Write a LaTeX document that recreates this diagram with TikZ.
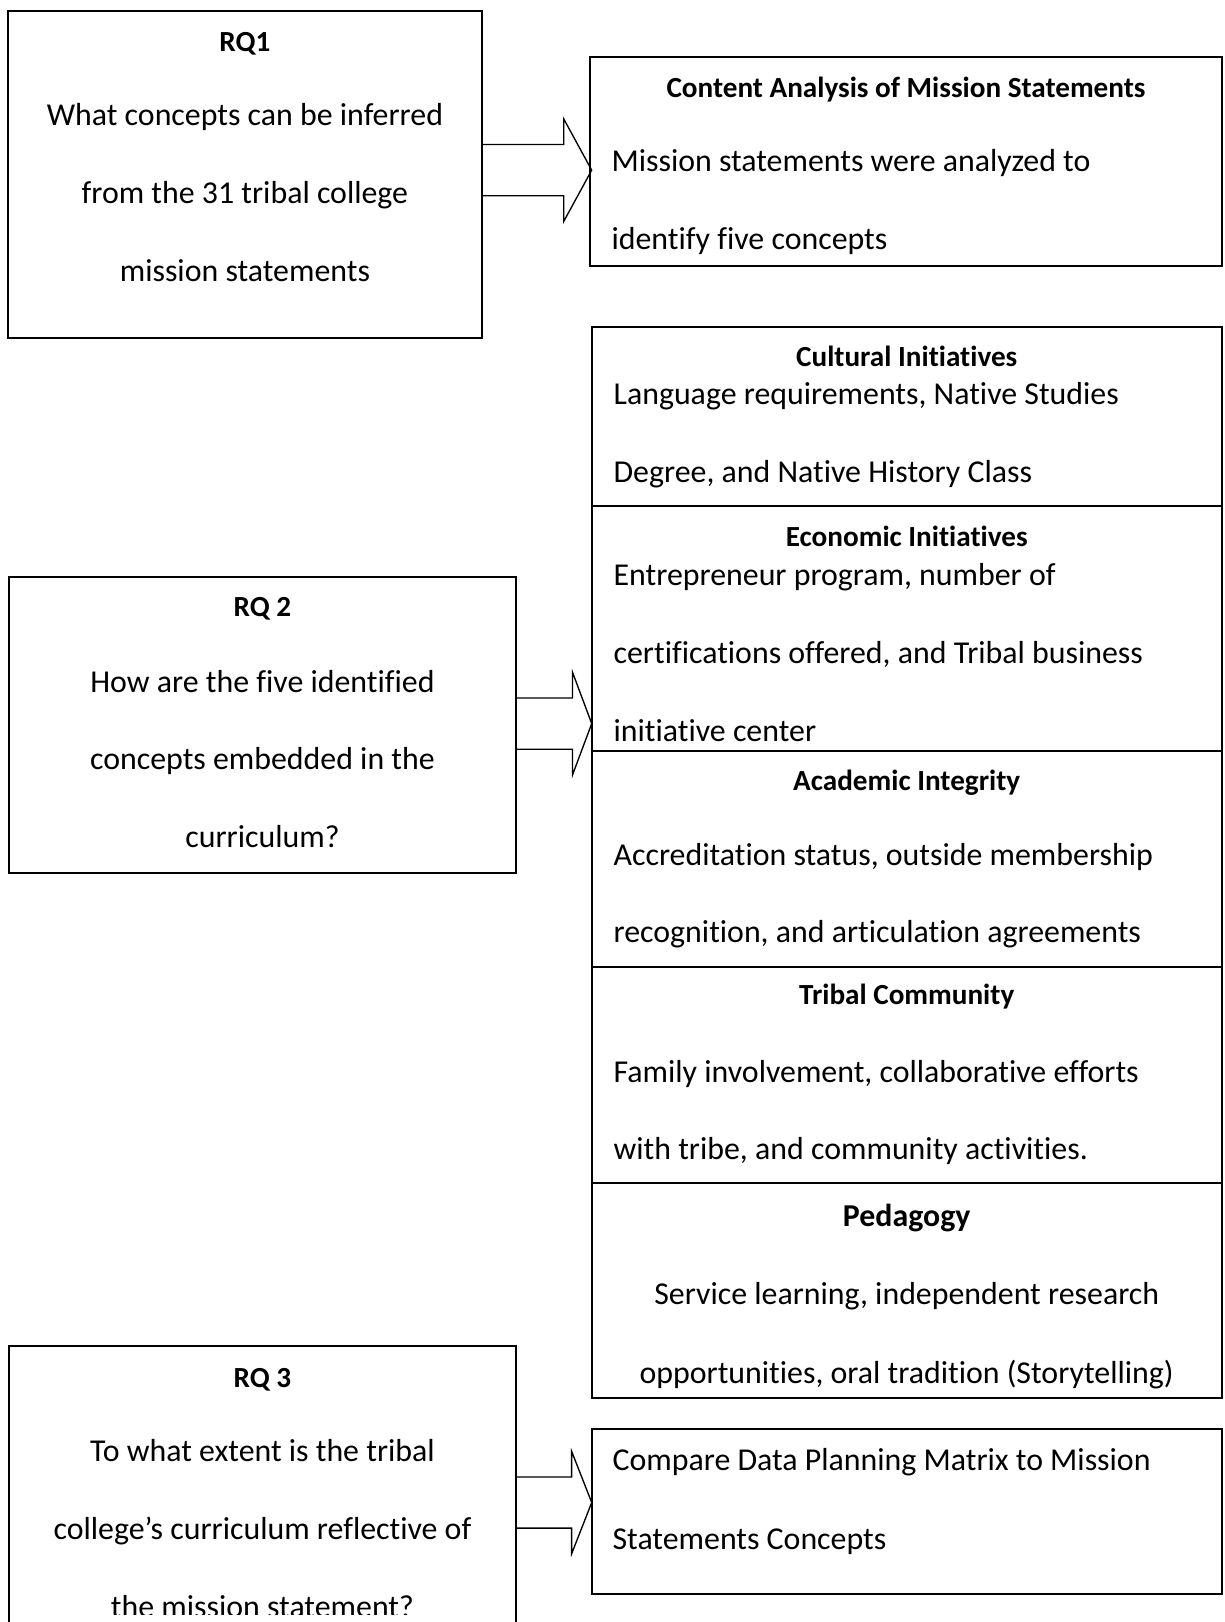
\documentclass[tikz,border=0pt]{standalone}
\usepackage{fontspec}
\setmainfont{Carlito}[Ligatures=NoCommon]
\usetikzlibrary{calc}
\newcommand\bodyfont{\fontsize{30.8}{36}\selectfont}
\newcommand\headfont{\fontsize{28.2}{34}\selectfont\bfseries}
\newcommand\bigheadfont{\fontsize{30.8}{36}\selectfont\bfseries}
\newcommand\blockarr[3]{%
  \draw[blockarrow] let \p1=(#1.east), \p2=(#2) in
   (\x1,\y2+24.75pt) -- (\x2-#3pt,\y2+24.75pt) -- (\x2-#3pt,\y2+49.5pt) -- (\x2,\y2)
   -- (\x2-#3pt,\y2-49.5pt) -- (\x2-#3pt,\y2-24.75pt) -- (\x1,\y2-24.75pt);}
\begin{document}
\begin{tikzpicture}[x=1pt,y=-1pt,
  box/.style={draw, line width=1.9pt, inner sep=0pt, outer sep=0pt, anchor=north west},
  blockarrow/.style={draw, line width=1.3pt, line join=miter},
  txt/.style={inner sep=0pt, anchor=base west, font=\bodyfont},
  ctxt/.style={inner sep=0pt, anchor=base, font=\bodyfont},
  head/.style={inner sep=0pt, anchor=base, font=\headfont},
  bighead/.style={inner sep=0pt, anchor=base, font=\bigheadfont}]
\useasboundingbox[fill=white] (0,0) rectangle (1184,1568);

% ---------- RQ1 ----------
\node[box, minimum width=457.5pt, minimum height=316.4pt] (rq1) at (8,10.6) {};
\node[head] (rq1h) at (236.75,50) {RQ1};
\node[ctxt] (rq1a) at (236.75,121.5) {What concepts can be inferred};
\node[ctxt] (rq1b) at (236.75,197) {from the 31 tribal college};
\node[ctxt] (rq1c) at (236.75,272.5) {mission statements};

% ---------- Content analysis ----------
\node[box, minimum width=610.4pt, minimum height=201.6pt] (content) at (570.6,55.4) {};
\node[head] (conth) at (875.8,94) {Content Analysis of Mission Statements};
\node[txt] (conta) at (591,166) {Mission statements were analyzed to};
\node[txt] (contb) at (591,241.5) {identify five concepts};

% ---------- Concept boxes ----------
\node[box, minimum width=609pt, minimum height=173.8pt] (cult) at (572,315.7) {};
\node[head] (culth) at (876.5,354.5) {Cultural Initiatives};
\node[txt] (culta) at (593,391) {Language requirements, Native Studies};
\node[txt] (cultb) at (593,466.5) {Degree, and Native History Class};

\node[box, minimum width=609pt, minimum height=236.1pt] (econ) at (572,489.5) {};
\node[head] (econh) at (876.5,528.5) {Economic Initiatives};
\node[txt] (econa) at (593,566) {Entrepreneur program, number of};
\node[txt] (econb) at (593,641.5) {certifications offered, and Tribal business};
\node[txt] (econc) at (593,717) {initiative center};

\node[box, minimum width=609pt, minimum height=208.9pt] (acad) at (572,725.6) {};
\node[head] (acadh) at (876.5,764) {Academic Integrity};
\node[txt] (acada) at (593,836.5) {Accreditation status, outside membership};
\node[txt] (acadb) at (593,911) {recognition, and articulation agreements};

\node[box, minimum width=609pt, minimum height=209.2pt] (trib) at (572,934.5) {};
\node[head] (tribh) at (876.5,971.5) {Tribal Community};
\node[txt] (triba) at (593,1046) {Family involvement, collaborative efforts};
\node[txt] (tribb) at (593,1120.5) {with tribe, and community activities.};

\node[box, minimum width=609pt, minimum height=207.3pt] (peda) at (572,1143.7) {};
\node[bighead] (pedah) at (876.5,1186) {Pedagogy};
\node[ctxt] (pedaa) at (876.5,1261.5) {Service learning, independent research};
\node[ctxt] (pedab) at (876.5,1337) {opportunities, oral tradition (Storytelling)};

\node[box, minimum width=609pt, minimum height=159.5pt] (comp) at (572,1381.5) {};
\node[txt] (compa) at (592,1422) {Compare Data Planning Matrix to Mission};
\node[txt] (compb) at (592,1497.5) {Statements Concepts};

% ---------- RQ2 ----------
\node[box, minimum width=489.4pt, minimum height=286.6pt] (rq2) at (9,557.4) {};
\node[head] (rq2h) at (253.7,596) {RQ 2};
\node[ctxt] (rq2a) at (253.7,669) {How are the five identified};
\node[ctxt] (rq2b) at (253.7,744) {concepts embedded in the};
\node[ctxt] (rq2c) at (253.7,819) {curriculum?};

% ---------- RQ3 (cut off at the bottom) ----------
\begin{scope}
\clip (0,0) rectangle (1184,1568);
\node[box, minimum width=489.4pt, minimum height=320pt] (rq3) at (9,1301.6) {};
\node[head] (rq3h) at (253.7,1341.5) {RQ 3};
\node[ctxt] (rq3a) at (253.7,1413) {To what extent is the tribal};
\node[ctxt] (rq3b) at (253.7,1488.5) {college’s curriculum reflective of};
\begin{scope}
\clip (0,0) rectangle (1184,1561);
\node[ctxt] (rq3c) at (253.7,1564) {the mission statement?};
\end{scope}
\end{scope}

% ---------- Block arrows ----------
\coordinate (t1) at (572,164.5);
\coordinate (t2) at (572,699.5);
\coordinate (t3) at (572,1452.5);
\blockarr{rq1}{t1}{27}
\blockarr{rq2}{t2}{18.5}
\blockarr{rq3}{t3}{19.4}
\end{tikzpicture}
\end{document}
